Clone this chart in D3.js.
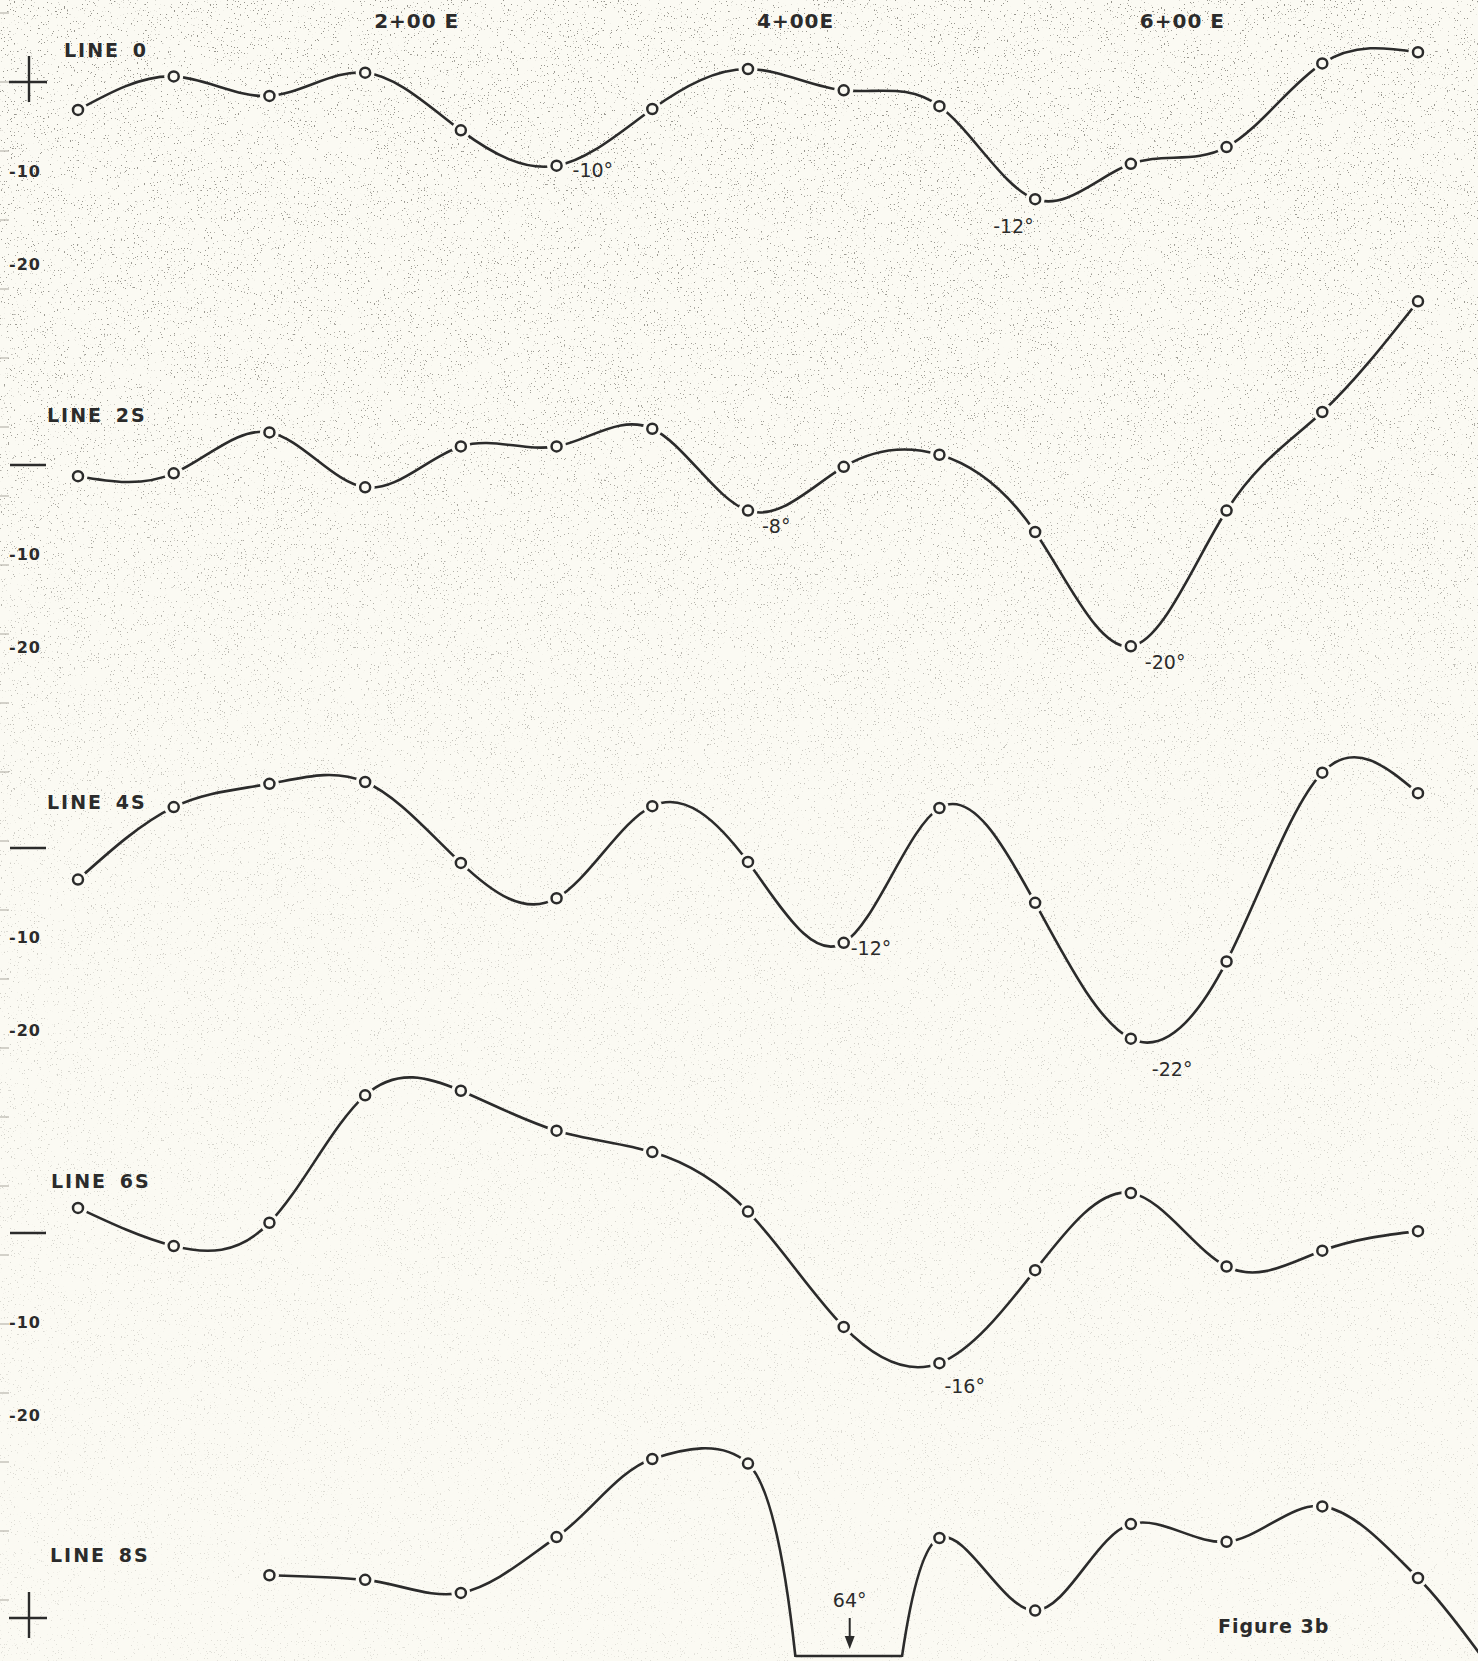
<!DOCTYPE html>
<html>
<head>
<meta charset="utf-8">
<script src="https://cdn.jsdelivr.net/npm/d3@7"></script>
<style>
  body{margin:0;background:#fbfaf3;}
  svg{display:block;}
  text{font-family:"DejaVu Sans",sans-serif;fill:#2b2b2b;}
</style>
</head>
<body>
<div class="box"></div>
<script>
// stations in feet east (0+50E ... 7+50E)
const stations=[50,100,150,200,250,300,350,400,450,500,550,600,650,700,750];
const stations8S=[150,200,250,300,350,400,450,500,550,600,650,700,750,800];

// dip readings (degrees) per line
const line0 =[-3.0, 0.6,-1.5, 1.0,-5.2,-9.0,-2.9, 1.4,-0.9,-2.6,-12.6,-8.8,-7.0, 2.0, 3.2];
const line2S=[-1.2,-0.9, 3.5,-2.4, 2.0, 2.0, 3.9,-4.9,-0.2, 1.1,-7.2,-19.5,-4.9, 5.7,17.6];
const line4S=[-3.4, 4.4, 6.9, 7.1,-1.6,-5.4, 4.5,-1.5,-10.2, 4.3,-5.9,-20.5,-12.2, 8.1, 5.9];
const line6S=[ 2.7,-1.4, 1.1,14.8,15.3,11.0, 8.7, 2.3,-10.1,-14.0,-4.0, 4.3,-3.6,-1.9, 0.2];
const line8S=[ 4.6, 4.1, 2.7, 8.7,17.1,16.6,-64, 8.6, 0.8,10.1, 8.2,12.0, 4.3,-9];

const lineNames=['LINE 0','LINE 2S','LINE 4S','LINE 6S','LINE 8S'];
const stationTicks=[200,400,600];
const stationLabels=['2+00 E','4+00E','6+00 E'];
const dipTicks=[-10,-20];

const notes=[
  {line:0,station:300,text:'-10°'},
  {line:0,station:550,text:'-12°'},
  {line:1,station:400,text:'-8°'},
  {line:1,station:600,text:'-20°'},
  {line:2,station:450,text:'-12°'},
  {line:2,station:600,text:'-22°'},
  {line:3,station:500,text:'-16°'}
];
// label offsets from the point (px)
const noteOffsets=[[16,11],[-42,34],[14,22],[14,23],[7,12],[21,37],[5,30]];

const dims={width:1478,height:1661};
const panelZero=[82,465,848,1233,1618];
const zeroMarks=['plus','dash','dash','dash','plus'];
const ink='#2b2b2b', paper='#fbfaf3';

const svg=d3.select('.box')
    .append('svg')
    .attr('width',dims.width)
    .attr('height',dims.height);

const defs=svg.append('defs');
const grain=defs.append('filter').attr('id','grain')
    .attr('x',0).attr('y',0).attr('width','100%').attr('height','100%');
grain.append('feTurbulence')
    .attr('type','fractalNoise')
    .attr('baseFrequency',0.7)
    .attr('numOctaves',2)
    .attr('seed',7);
grain.append('feColorMatrix')
    .attr('type','matrix')
    .attr('values','0 0 0 0 0.3  0 0 0 0 0.29  0 0 0 0 0.26  18 0 0 0 -12.4');

const fade=defs.append('linearGradient').attr('id','fade')
    .attr('x1',0).attr('y1',0).attr('x2',0).attr('y2',1);
fade.append('stop').attr('offset','0%').attr('stop-color','#fff').attr('stop-opacity',1);
fade.append('stop').attr('offset','25%').attr('stop-color','#fff').attr('stop-opacity',0.9);
fade.append('stop').attr('offset','50%').attr('stop-color','#fff').attr('stop-opacity',0.45);
fade.append('stop').attr('offset','100%').attr('stop-color','#fff').attr('stop-opacity',0.25);
defs.append('mask').attr('id','fadeMask')
  .append('rect').attr('width',dims.width).attr('height',dims.height).attr('fill','url(#fade)');

defs.append('clipPath').attr('id','pageClip')
  .append('rect').attr('width',dims.width).attr('height',dims.height-4);

svg.append('rect').attr('width',dims.width).attr('height',dims.height).attr('fill',paper);
svg.append('rect').attr('width',dims.width).attr('height',dims.height)
    .attr('filter','url(#grain)').attr('mask','url(#fadeMask)');

// faint edge marks of the sheet
svg.append('g').selectAll('line')
    .data(d3.range(13,dims.height,69))
    .enter().append('line')
    .attr('x1',0).attr('x2',9)
    .attr('y1',d=>d).attr('y2',d=>d)
    .attr('stroke','#b9b6ad').attr('stroke-width',1.2);

const x=d3.scaleLinear().domain([50,750]).range([78,1418]);
const yScales=panelZero.map(z=>d3.scaleLinear().domain([0,-20]).range([z,z+186]));

// station labels along the top
svg.append('g').selectAll('text')
    .data(stationTicks)
    .enter().append('text')
    .attr('x',d=>x(d)+9)
    .attr('y',28)
    .attr('font-size',20)
    .attr('font-weight','bold')
    .attr('letter-spacing',1)
    .text((d,i)=>stationLabels[i]);

const series=[
  {st:stations,v:line0},
  {st:stations,v:line2S},
  {st:stations,v:line4S},
  {st:stations,v:line6S},
  {st:stations8S,v:line8S}
];

series.forEach((s,i)=>{
  const y=yScales[i];
  const z=panelZero[i];
  const g=svg.append('g');
  const pts=s.st.map((st,k)=>({s:st,v:s.v[k]}));
  // the off-scale line keeps a tighter curve
  const curve=i==4 ? d3.curveCatmullRom.alpha(0.5) : d3.curveNatural;
  const lineGen=d3.line().curve(curve).x(d=>x(d.s)).y(d=>y(d.v));

  // zero mark
  if(zeroMarks[i]=='plus'){
    g.append('line').attr('x1',9).attr('x2',47).attr('y1',y(0)).attr('y2',y(0))
      .attr('stroke',ink).attr('stroke-width',2.4);
    g.append('line').attr('x1',29).attr('x2',29).attr('y1',y(0)-26).attr('y2',y(0)+20)
      .attr('stroke',ink).attr('stroke-width',2.4);
  } else {
    g.append('line').attr('x1',10).attr('x2',46).attr('y1',y(0)).attr('y2',y(0))
      .attr('stroke',ink).attr('stroke-width',2.4);
  }

  // dip ticks (the last panel has none)
  if(i<4){
    g.selectAll('.tick').data(dipTicks).enter().append('text')
      .attr('class','tick')
      .attr('x',9).attr('y',d=>y(d)+2)
      .attr('font-size',16).attr('font-weight','bold')
      .attr('letter-spacing',1)
      .text(d=>'-'+Math.abs(d));
  }

  g.append('text')
    .attr('x',[64,47,47,51,50][i])
    .attr('y',[57,422,809,1188,1562][i])
    .attr('font-size',19).attr('font-weight','bold')
    .attr('letter-spacing',2).attr('word-spacing',4)
    .text(lineNames[i]);

  const path=g.append('path')
    .datum(pts)
    .attr('clip-path','url(#pageClip)')
    .attr('fill','none')
    .attr('stroke',ink)
    .attr('stroke-width',2.6)
    .attr('stroke-linecap','round')
    .attr('d',lineGen);

  // off-scale reading: flat bottom where the curve leaves the sheet
  const node=path.node();
  const L=node.getTotalLength();
  const bottom=dims.height-4;
  const xs=[];
  for(let l=0;l<L;l+=1){
    const p=node.getPointAtLength(l);
    if(p.y>=bottom && p.x<dims.width-40) xs.push(p.x);
  }
  if(xs.length){
    g.append('line')
      .attr('x1',d3.min(xs)).attr('x2',d3.max(xs))
      .attr('y1',bottom-1).attr('y2',bottom-1)
      .attr('stroke',ink).attr('stroke-width',2.6);
  }

  const onSheet=pts.filter(d=>y(d.v)<dims.height-10 && x(d.s)<dims.width);
  g.selectAll('.halo').data(onSheet).enter().append('circle')
    .attr('class','halo')
    .attr('cx',d=>x(d.s)).attr('cy',d=>y(d.v)).attr('r',9.5)
    .attr('fill',paper);
  g.selectAll('.pt').data(onSheet).enter().append('circle')
    .attr('class','pt')
    .attr('cx',d=>x(d.s)).attr('cy',d=>y(d.v)).attr('r',5)
    .attr('fill','none').attr('stroke',ink).attr('stroke-width',2.5);

  // off-scale note for 8S
  const off=pts.filter(d=>y(d.v)>=dims.height);
  off.forEach(d=>{
    const ax=x(d.s)+6;
    g.append('text').attr('x',ax).attr('y',z-11)
      .attr('text-anchor','middle').attr('font-size',19)
      .text(Math.abs(d.v)+'°');
    g.append('line').attr('x1',ax).attr('x2',ax).attr('y1',z).attr('y2',z+22)
      .attr('stroke',ink).attr('stroke-width',2);
    g.append('path')
      .attr('d',`M${ax-5},${z+18}L${ax+5},${z+18}L${ax},${z+31}Z`)
      .attr('fill',ink);
  });
});

// degree annotations
svg.append('g').selectAll('text')
  .data(notes)
  .enter().append('text')
  .attr('x',(d,i)=>x(d.station)+noteOffsets[i][0])
  .attr('y',(d,i)=>{
      const s=series[d.line];
      const v=s.v[s.st.indexOf(d.station)];
      return yScales[d.line](v)+noteOffsets[i][1];
  })
  .attr('font-size',19)
  .text(d=>d.text);

svg.append('text')
  .attr('x',dims.width-260)
  .attr('y',1633)
  .attr('font-size',19)
  .attr('font-weight','bold')
  .attr('letter-spacing',1)
  .text('Figure 3b');
</script>
</body>
</html>
